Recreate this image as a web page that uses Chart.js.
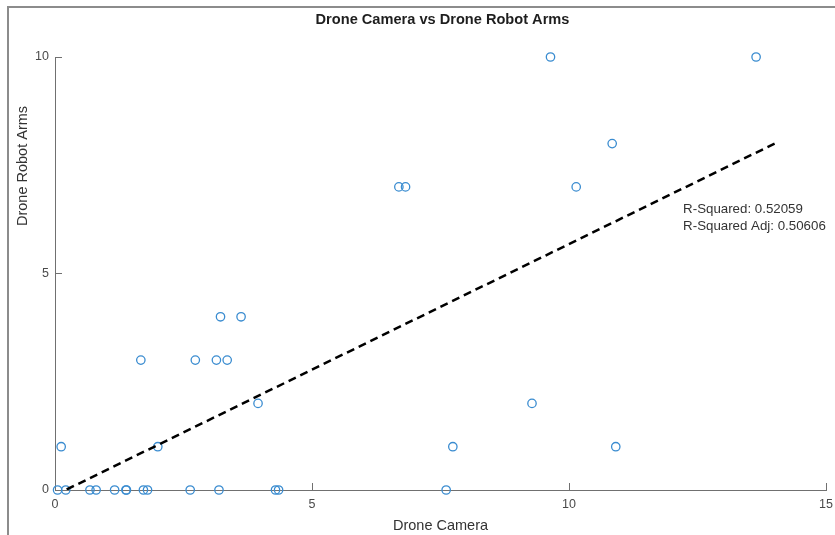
<!DOCTYPE html>
<html>
<head>
<meta charset="utf-8">
<title>Drone Camera vs Drone Robot Arms</title>
<script src="https://cdn.jsdelivr.net/npm/chart.js@4.4.1/dist/chart.umd.min.js"></script>
<style>
  html, body { margin: 0; padding: 0; background: #fff; }
  #wrap { width: 835px; height: 535px; position: relative; }
</style>
</head>
<body>
<div id="wrap"><canvas id="c" width="835" height="535"></canvas></div>
<script>
// Observations: drone camera count vs drone robot arm count
const cameraValues = [
  0.05, 0.21, 0.68, 0.80, 1.16, 1.38, 1.39, 1.72, 1.80, 2.63, 3.19, 4.29, 4.35, 7.61,
  0.12, 2.00, 7.74, 10.91,
  3.95, 9.28,
  1.67, 2.73, 3.14, 3.35,
  3.22, 3.62,
  6.69, 6.82, 10.14,
  10.84,
  9.64, 13.64
];
const robotArmValues = [
  0, 0, 0, 0, 0, 0, 0, 0, 0, 0, 0, 0, 0, 0,
  1, 1, 1, 1,
  2, 2,
  3, 3, 3, 3,
  4, 4,
  7, 7, 7,
  8,
  10, 10
];

// Least-squares fit line endpoints
const fitX = [0, 14];
const fitY = [-0.12, 8.0];

const xTicks = [0, 5, 10, 15];
const yTicks = [0, 5, 10];

const rSquaredLines = ['R-Squared: 0.52059', 'R-Squared Adj: 0.50606'];

const titleText = 'Drone Camera vs Drone Robot Arms';
const xLabel = 'Drone Camera';
const yLabel = 'Drone Robot Arms';

const FONT = '"Liberation Sans", Arial, Helvetica, sans-serif';
const AXIS_COLOR = '#707070';
const TEXT_COLOR = '#4a4a4a';

const scatterPoints = cameraValues.map((x, i) => ({ x: x, y: robotArmValues[i] }));
const fitPoints = fitX.map((x, i) => ({ x: x, y: fitY[i] }));

// Figure frame, title, y label and the fit statistics
const decorations = {
  id: 'decorations',
  beforeDraw(chart) {
    const ctx = chart.ctx;
    ctx.save();
    ctx.fillStyle = '#ffffff';
    ctx.fillRect(0, 0, chart.width, chart.height);
    ctx.strokeStyle = '#8c8c8c';
    ctx.lineWidth = 2;
    ctx.beginPath();
    ctx.moveTo(8, chart.height);
    ctx.lineTo(8, 7);
    ctx.lineTo(chart.width, 7);
    ctx.stroke();
    ctx.restore();
  },
  afterDraw(chart) {
    const ctx = chart.ctx;
    const area = chart.chartArea;
    ctx.save();
    ctx.fillStyle = '#1e1e1e';
    ctx.font = 'bold 14.6px ' + FONT;
    ctx.textAlign = 'center';
    ctx.textBaseline = 'middle';
    ctx.fillText(titleText, (area.left + area.right) / 2 + 2, 20);

    ctx.fillStyle = '#333333';
    ctx.font = '14.5px ' + FONT;
    ctx.translate(23, 166);
    ctx.rotate(-Math.PI / 2);
    ctx.fillText(yLabel, 0, 0);
    ctx.restore();

    ctx.save();
    const xs = chart.scales.x, ys = chart.scales.y;
    ctx.fillStyle = '#333333';
    ctx.font = '13.3px ' + FONT;
    ctx.textAlign = 'left';
    ctx.textBaseline = 'middle';
    const tx = xs.getPixelForValue(12.22);
    const ty = ys.getPixelForValue(6.48);
    ctx.fillText(rSquaredLines[0], tx, ty);
    ctx.fillText(rSquaredLines[1], tx, ty + 17);
    ctx.restore();
  }
};

new Chart(document.getElementById('c'), {
  type: 'scatter',
  data: {
    datasets: [
      {
        type: 'line',
        label: 'Fit',
        data: fitPoints,
        borderColor: '#000000',
        borderWidth: 2.5,
        borderDash: [8, 5],
        pointRadius: 0,
        fill: false,
        tension: 0,
        order: 0
      },
      {
        label: 'Observations',
        data: scatterPoints,
        pointStyle: 'circle',
        pointRadius: 4.2,
        pointBorderWidth: 1.3,
        borderColor: '#3a8cd0',
        backgroundColor: 'rgba(0,0,0,0)',
        clip: false,
        order: 1
      }
    ]
  },
  options: {
    responsive: false,
    animation: false,
    events: [],
    layout: { autoPadding: false, padding: { left: 0, right: 9, top: 57, bottom: 0 } },
    plugins: {
      legend: { display: false },
      tooltip: { enabled: false },
      title: { display: false }
    },
    scales: {
      x: {
        type: 'linear',
        min: 0,
        max: 15,
        afterFit(scale) {
          scale.height = 45;
          scale.paddingLeft = 0;
          scale.paddingRight = 0;
        },
        afterBuildTicks(scale) { scale.ticks = xTicks.map(v => ({ value: v })); },
        border: { display: true, color: AXIS_COLOR, width: 1 },
        grid: { drawOnChartArea: false, drawTicks: true, tickLength: -7, color: AXIS_COLOR, lineWidth: 1 },
        ticks: { padding: 14, color: TEXT_COLOR, font: { family: FONT, size: 12.5 }, maxRotation: 0 },
        title: {
          display: true,
          text: xLabel,
          color: '#333333',
          font: { family: FONT, size: 14.5 },
          padding: { top: 3, bottom: 0 }
        }
      },
      y: {
        type: 'linear',
        min: 0,
        max: 10,
        afterFit(scale) {
          scale.width = 55;
          scale.paddingTop = 0;
          scale.paddingBottom = 0;
        },
        afterBuildTicks(scale) { scale.ticks = yTicks.map(v => ({ value: v })); },
        border: { display: true, color: AXIS_COLOR, width: 1 },
        grid: { drawOnChartArea: false, drawTicks: true, tickLength: -7, color: AXIS_COLOR, lineWidth: 1 },
        ticks: { padding: 13, color: TEXT_COLOR, font: { family: FONT, size: 12.5 } }
      }
    }
  },
  plugins: [decorations]
});
</script>
</body>
</html>
